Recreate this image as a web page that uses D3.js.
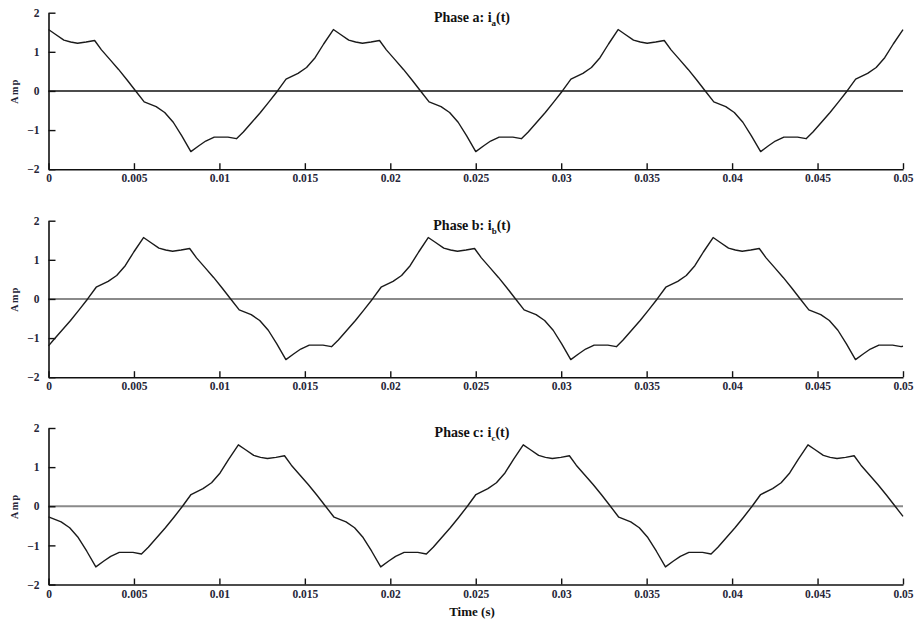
<!DOCTYPE html>
<html>
<head>
<meta charset="utf-8">
<script src="https://cdn.jsdelivr.net/npm/d3@7"></script>
<style>
body { margin: 0; background: #fff; }
svg text { font-family: "Liberation Serif", "DejaVu Serif", serif; font-weight: bold; }
</style>
</head>
<body>
<div id="chart"></div>
<script>
// [time (s), current (A)]
var phaseA = [
[0,1.57],[0.0004,1.45],[0.0009,1.30],[0.0013,1.25],[0.0017,1.22],[0.0022,1.25],[0.0027,1.29],
[0.0031,1.05],[0.0036,0.80],[0.0041,0.55],[0.0046,0.28],[0.0051,0.0],[0.0056,-0.28],[0.0063,-0.40],
[0.0068,-0.55],[0.0073,-0.80],[0.0078,-1.15],[0.00833,-1.55],[0.0088,-1.40],[0.0092,-1.28],[0.0097,-1.18],
[0.0105,-1.18],[0.0110,-1.22],[0.0114,-1.05],[0.0119,-0.80],[0.0124,-0.55],[0.0129,-0.28],[0.0134,0.0],
[0.0139,0.30],[0.0146,0.45],[0.0151,0.60],[0.0156,0.85],[0.0161,1.20],[0.01667,1.57],
[0.01707,1.45],[0.01757,1.30],[0.01797,1.25],[0.01837,1.22],[0.01887,1.25],[0.01937,1.29],[0.01977,1.05],
[0.02027,0.80],[0.02077,0.55],[0.02127,0.28],[0.02177,0.0],[0.02227,-0.28],[0.02297,-0.40],[0.02347,-0.55],
[0.02397,-0.80],[0.02447,-1.15],[0.02500,-1.55],[0.02547,-1.40],[0.02587,-1.28],[0.02637,-1.18],[0.02717,-1.18],
[0.02767,-1.22],[0.02807,-1.05],[0.02857,-0.80],[0.02907,-0.55],[0.02957,-0.28],[0.03007,0.0],[0.03057,0.30],
[0.03127,0.45],[0.03177,0.60],[0.03227,0.85],[0.03277,1.20],[0.03333,1.57],
[0.03373,1.45],[0.03423,1.30],[0.03463,1.25],[0.03503,1.22],[0.03553,1.25],[0.03603,1.29],[0.03643,1.05],
[0.03693,0.80],[0.03743,0.55],[0.03793,0.28],[0.03843,0.0],[0.03893,-0.28],[0.03963,-0.40],[0.04013,-0.55],
[0.04063,-0.80],[0.04113,-1.15],[0.04167,-1.55],[0.04213,-1.40],[0.04253,-1.28],[0.04303,-1.18],[0.04383,-1.18],
[0.04433,-1.22],[0.04473,-1.05],[0.04523,-0.80],[0.04573,-0.55],[0.04623,-0.28],[0.04673,0.0],[0.04723,0.30],
[0.04793,0.45],[0.04843,0.60],[0.04893,0.85],[0.04943,1.20],[0.05,1.57]
];
var phaseB = [
[0,-1.20],[0.00029,-1.05],[0.00079,-0.80],[0.00129,-0.55],[0.00179,-0.28],[0.00229,0.0],[0.00279,0.30],
[0.00349,0.45],[0.00399,0.60],[0.00449,0.85],[0.00499,1.20],[0.00556,1.57],[0.00596,1.45],[0.00646,1.30],
[0.00686,1.25],[0.00726,1.22],[0.00776,1.25],[0.00826,1.29],[0.00866,1.05],[0.00916,0.80],[0.00966,0.55],
[0.01016,0.28],[0.01066,0.0],[0.01116,-0.28],[0.01186,-0.40],[0.01236,-0.55],[0.01286,-0.80],[0.01336,-1.15],
[0.01389,-1.55],[0.01436,-1.40],[0.01476,-1.28],[0.01526,-1.18],[0.01606,-1.18],[0.01656,-1.22],
[0.01696,-1.05],[0.01746,-0.80],[0.01796,-0.55],[0.01846,-0.28],[0.01896,0.0],[0.01946,0.30],[0.02016,0.45],
[0.02066,0.60],[0.02116,0.85],[0.02166,1.20],[0.02222,1.57],[0.02263,1.45],[0.02313,1.30],[0.02353,1.25],
[0.02393,1.22],[0.02443,1.25],[0.02493,1.29],[0.02533,1.05],[0.02583,0.80],[0.02633,0.55],[0.02683,0.28],
[0.02733,0.0],[0.02783,-0.28],[0.02853,-0.40],[0.02903,-0.55],[0.02953,-0.80],[0.03003,-1.15],[0.03056,-1.55],
[0.03103,-1.40],[0.03143,-1.28],[0.03193,-1.18],[0.03273,-1.18],[0.03323,-1.22],
[0.03362,-1.05],[0.03412,-0.80],[0.03462,-0.55],[0.03512,-0.28],[0.03562,0.0],[0.03612,0.30],[0.03682,0.45],
[0.03732,0.60],[0.03782,0.85],[0.03832,1.20],[0.03889,1.57],[0.03929,1.45],[0.03979,1.30],[0.04019,1.25],
[0.04059,1.22],[0.04109,1.25],[0.04159,1.29],[0.04199,1.05],[0.04249,0.80],[0.04299,0.55],[0.04349,0.28],
[0.04399,0.0],[0.04449,-0.28],[0.04519,-0.40],[0.04569,-0.55],[0.04619,-0.80],[0.04669,-1.15],[0.04722,-1.55],
[0.04769,-1.40],[0.04809,-1.28],[0.04859,-1.18],[0.04939,-1.18],[0.04989,-1.22],[0.05,-1.21]
];
var phaseC = [
[0,-0.27],[0.00074,-0.40],[0.00124,-0.55],[0.00174,-0.80],[0.00224,-1.15],[0.00277,-1.55],[0.00324,-1.40],
[0.00364,-1.28],[0.00414,-1.18],[0.00494,-1.18],[0.00544,-1.22],[0.00584,-1.05],[0.00634,-0.80],[0.00684,-0.55],
[0.00734,-0.28],[0.00784,0.0],[0.00834,0.30],[0.00904,0.45],[0.00954,0.60],[0.01004,0.85],[0.01054,1.20],
[0.01111,1.57],[0.01151,1.45],[0.01201,1.30],[0.01241,1.25],[0.01281,1.22],[0.01331,1.25],[0.01381,1.29],
[0.01421,1.05],[0.01471,0.80],[0.01521,0.55],[0.01571,0.28],[0.01621,0.0],
[0.01671,-0.28],[0.01741,-0.40],[0.01791,-0.55],[0.01841,-0.80],[0.01891,-1.15],[0.01944,-1.55],[0.01991,-1.40],
[0.02031,-1.28],[0.02081,-1.18],[0.02161,-1.18],[0.02211,-1.22],[0.02251,-1.05],[0.02301,-0.80],[0.02351,-0.55],
[0.02401,-0.28],[0.02451,0.0],[0.02501,0.30],[0.02571,0.45],[0.02621,0.60],[0.02671,0.85],[0.02721,1.20],
[0.02778,1.57],[0.02818,1.45],[0.02868,1.30],[0.02908,1.25],[0.02948,1.22],[0.02998,1.25],[0.03048,1.29],
[0.03088,1.05],[0.03138,0.80],[0.03188,0.55],[0.03238,0.28],[0.03288,0.0],
[0.03337,-0.28],[0.03407,-0.40],[0.03457,-0.55],[0.03507,-0.80],[0.03557,-1.15],[0.03610,-1.55],[0.03657,-1.40],
[0.03697,-1.28],[0.03747,-1.18],[0.03827,-1.18],[0.03877,-1.22],[0.03917,-1.05],[0.03967,-0.80],[0.04017,-0.55],
[0.04067,-0.28],[0.04117,0.0],[0.04167,0.30],[0.04237,0.45],[0.04287,0.60],[0.04337,0.85],[0.04387,1.20],
[0.04444,1.57],[0.04484,1.45],[0.04534,1.30],[0.04574,1.25],[0.04614,1.22],[0.04664,1.25],[0.04714,1.29],
[0.04754,1.05],[0.04804,0.80],[0.04854,0.55],[0.04904,0.28],[0.04954,0.0],[0.05,-0.26]
];

var xTicks = [0, 0.005, 0.01, 0.015, 0.02, 0.025, 0.03, 0.035, 0.04, 0.045, 0.05];
var xTickLabels = ['0', '0.005', '0.01', '0.015', '0.02', '0.025', '0.03', '0.035', '0.04', '0.045', '0.05'];
var yTicks = [2, 1, 0, -1, -2];
var phaseNames = ['a', 'b', 'c'];
var phaseData = [phaseA, phaseB, phaseC];

var W = 917, H = 623;
var LEFT = 48.5, RIGHT = 903;
var PANEL_TOP = [12.7, 220.7, 428];
var PANEL_H = 156.5;
var LABEL_COLOR = '#262638';

var svg = d3.select('#chart').append('svg')
	.attr('width', W)
	.attr('height', H);

var x = d3.scaleLinear().domain([0, 0.05]).range([LEFT, RIGHT]);

phaseData.forEach(function(data, i) {
	var top = PANEL_TOP[i];
	var y = d3.scaleLinear().domain([-2, 2]).range([top + PANEL_H, top]);
	var g = svg.append('g').attr('class', 'panel');

	// нулевая линия
	g.append('line')
	.attr('x1', x(0)).attr('x2', x(0.05))
	.attr('y1', y(0)).attr('y2', y(0))
	.attr('stroke', i == 0 ? '#111' : '#8a8a8a')
	.attr('stroke-width', i == 0 ? 1.4 : 2);

	var yAxis = d3.axisLeft(y)
	.tickValues(yTicks)
	.tickFormat(d3.format('d'))
	.tickSize(-7)
	.tickSizeOuter(0)
	.tickPadding(9);
	g.append('g')
	.attr('transform', 'translate(' + LEFT + ',0)')
	.call(yAxis);

	var xAxis = d3.axisBottom(x)
	.tickValues(xTicks)
	.tickFormat(function(d, k) { return xTickLabels[k]; })
	.tickSize(-6)
	.tickSizeOuter(0)
	.tickPadding(5);
	g.append('g')
	.attr('transform', 'translate(0,' + (top + PANEL_H) + ')')
	.call(xAxis);

	g.selectAll('.domain').attr('stroke', '#111').attr('stroke-width', 1.6);
	g.selectAll('.tick line').attr('stroke', '#111').attr('stroke-width', 1.4);
	g.selectAll('.tick text')
	.attr('fill', LABEL_COLOR)
	.style('font-size', '11.5px');

	var line = d3.line()
	.x(function(d) { return x(d[0]); })
	.y(function(d) { return y(d[1]); });

	g.append('path')
	.datum(data)
	.attr('fill', 'none')
	.attr('stroke', '#1a1a1a')
	.attr('stroke-width', 1.4)
	.attr('stroke-linejoin', 'round')
	.attr('d', line);

	// подпись оси
	g.append('text')
	.attr('transform', 'translate(18,' + y(0) + ') rotate(-90)')
	.attr('text-anchor', 'middle')
	.attr('fill', LABEL_COLOR)
	.style('font-size', '10px')
	.style('letter-spacing', '1.5px')
	.text('Amp');

	// заголовок
	var title = g.append('text')
	.attr('x', 472)
	.attr('y', top + 9)
	.attr('text-anchor', 'middle')
	.attr('fill', '#111')
	.style('font-size', '14px');
	title.append('tspan').text('Phase ' + phaseNames[i] + ': i');
	title.append('tspan').attr('dy', 4).style('font-size', '9px').text(phaseNames[i]);
	title.append('tspan').attr('dy', -4).text('(t)');
});

svg.append('text')
	.attr('x', 472)
	.attr('y', 616)
	.attr('text-anchor', 'middle')
	.attr('fill', '#111')
	.style('font-size', '13px')
	.text('Time (s)');
</script>
</body>
</html>
